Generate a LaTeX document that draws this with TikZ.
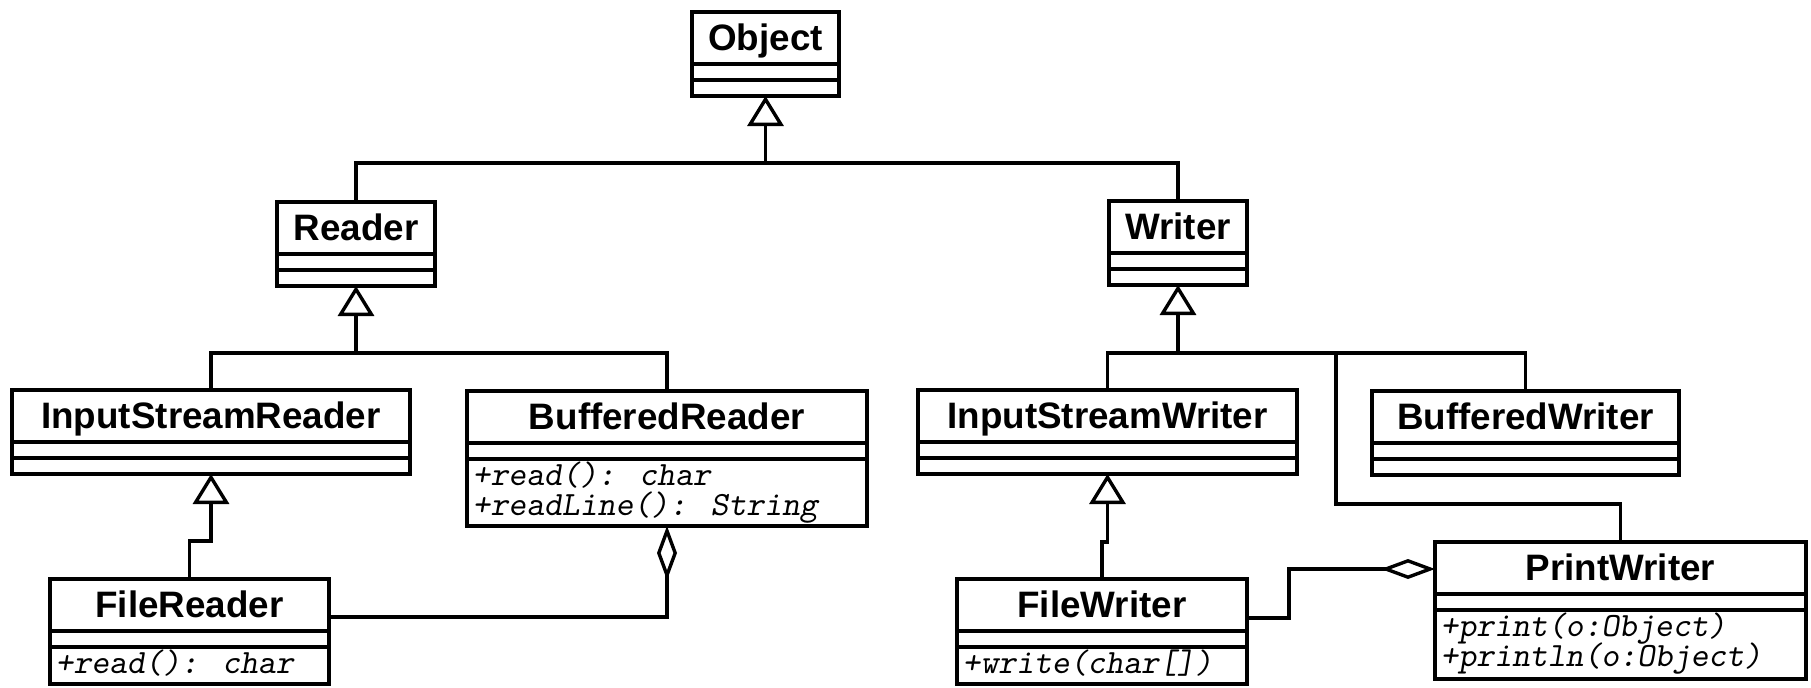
\documentclass[tikz,border=0pt]{standalone}
\usepackage{fontspec}
\newfontfamily\classfont{Liberation Sans}
\usetikzlibrary{arrows.meta}

\tikzset{
  classbox/.style={draw, rectangle, inner sep=0pt, outer sep=0pt},
  classtitle/.style={inner sep=0pt, anchor=base,
    font=\classfont\bfseries\fontsize{18.4}{22}\selectfont},
  optext/.style={inner sep=0pt, anchor=base west, text height=10pt, text depth=3pt,
    font=\ttfamily\slshape\fontsize{17}{17}\selectfont},
  gen/.style={-{Triangle[fill=white, length=15pt, width=18pt]}},
  agg/.style={-{Diamond[fill=white, length=27pt, width=10pt]}},
}

% class box: name, left, top, right, title, height of the operations part
\newcommand\umlclass[6]{%
  \pgfmathsetmacro\clw{0.5*((#4)-(#2))}%
  \pgfmathsetmacro\clh{0.5*(68+(#6))}%
  \node[classbox, anchor=north west, minimum width=\clw pt, minimum height=\clh pt] (#1) at (#2,#3) {};
  \node[classtitle] (#1-title) at ([yshift=-19pt]#1.north) {#5};
  \draw ([yshift=-26pt]#1.north west) -- ([yshift=-26pt]#1.north east);
  \draw ([yshift=-34pt]#1.north west) -- ([yshift=-34pt]#1.north east);
}
% operations listed in the lowest compartment
\newcommand\umlops[2]{%
  \foreach \opline [count=\k] in {#2}
    \node[optext] (#1-op\k) at ([xshift=2pt, yshift={-47pt-15pt*(\k-1)}]#1.north west) {\opline};
}

\begin{document}
\begin{tikzpicture}[x=0.5pt, y=-0.5pt, line width=1.7pt, line join=miter]
  \useasboundingbox (0,0) rectangle (1811,687);

  \umlclass{object}{692}{12}{839}{Object}{16}
  \umlclass{reader}{277}{202}{435}{Reader}{16}
  \umlclass{writer}{1109}{201}{1247}{Writer}{16}
  \umlclass{isr}{12}{390}{410}{InputStreamReader}{16}
  \umlclass{br}{467}{391}{867}{BufferedReader}{67}
  \umlclass{isw}{918}{390}{1297}{InputStreamWriter}{16}
  \umlclass{bw}{1372}{391}{1679}{BufferedWriter}{16}
  \umlclass{fr}{50}{579}{329}{FileReader}{37}
  \umlclass{fw}{957}{579}{1247}{FileWriter}{37}
  \umlclass{pw}{1435}{542}{1806}{PrintWriter}{69}

  \umlops{br}{+read(): char, +readLine(): String}
  \umlops{fr}{+read(): char}
  \umlops{fw}{+write(char[])}
  \umlops{pw}{+print(o:Object), +println(o:Object)}

  % Object <- Reader, Writer
  \coordinate (objbar) at (object.south |- 0,163);
  \draw[gen] (objbar) -- (object.south);
  \draw (reader.north) |- (objbar) -| (writer.north);

  % Reader <- InputStreamReader, BufferedReader
  \coordinate (rbar) at (reader.south |- 0,353);
  \draw[gen] (rbar) -- (reader.south);
  \draw (isr.north) |- (rbar) -| (br.north);

  % Writer <- InputStreamWriter, BufferedWriter, PrintWriter
  \coordinate (wbar) at (writer.south |- 0,353);
  \coordinate (pwbend) at (1336,504);
  \draw[gen] (wbar) -- (writer.south);
  \draw (isw.north) |- (wbar) -| (bw.north);
  \draw (pw.north) |- (pwbend) -- (pwbend |- wbar);

  % InputStreamReader <- FileReader, InputStreamWriter <- FileWriter
  \draw[gen] (fr.north) -- ++(0,-38) -| (isr.south);
  \draw[gen] (fw.north) -- ++(0,-37) -| (isw.south);

  % aggregations
  \draw[agg] (fr.east |- 0,617) -| (br.south);
  \coordinate (pwin) at (pw.west |- 0,569);
  \draw[agg] (fw.east |- 0,618) -- ++(42,0) |- (pwin);
\end{tikzpicture}
\end{document}
